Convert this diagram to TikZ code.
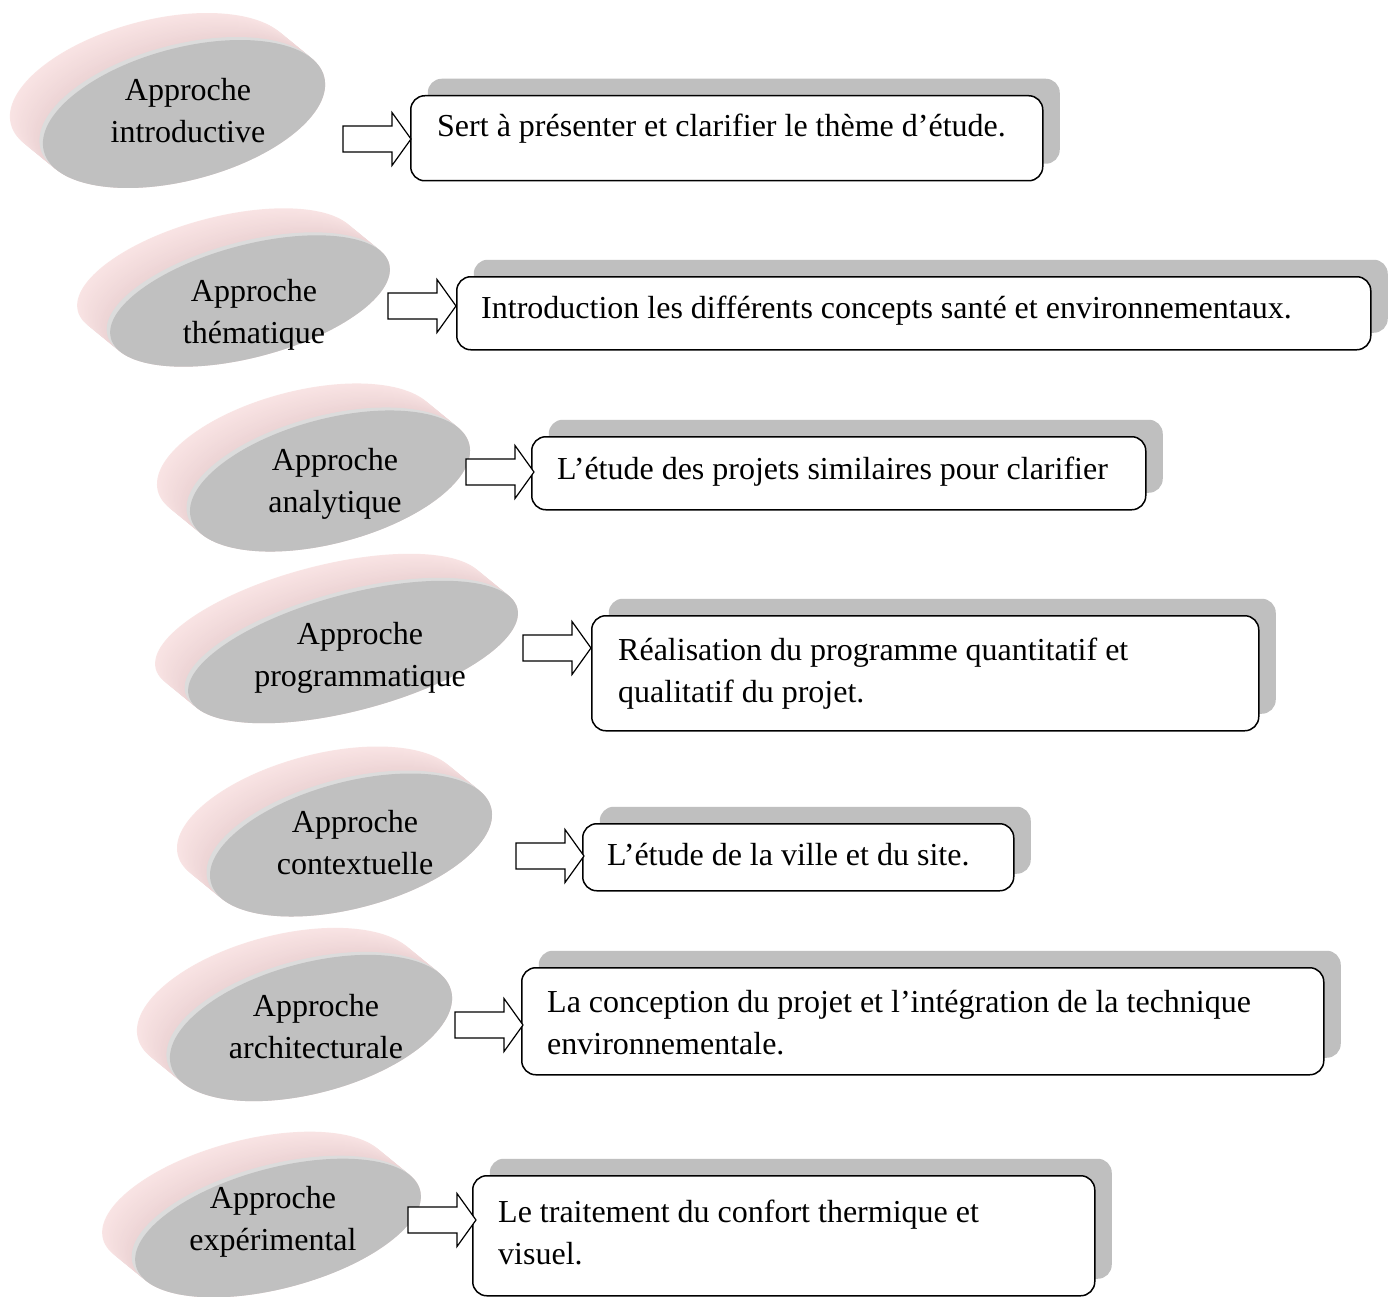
\documentclass[tikz,border=0pt]{standalone}
\usepackage{fontspec}
\setmainfont{Liberation Serif}
\usetikzlibrary{shadows}
\definecolor{faceg}{HTML}{C0C0C0}
\definecolor{rimg}{HTML}{DCDCDC}
\definecolor{shg}{HTML}{BFBFBF}
\definecolor{pinkB}{HTML}{F9E4E4}
\definecolor{pinkF}{HTML}{EBD2D3}
\newcommand\mydisk[4]{%
 \foreach \k in {0,...,24}{%
  \pgfmathsetmacro\dtf{1-\k/24}%
  \pgfmathtruncatemacro\pc{100*\k/24}%
  \fill[pinkF!\pc!pinkB, shift={({#1-33*\dtf},{#2-27*\dtf})}, rotate=15] (0,0) ellipse [x radius=#3pt, y radius=#4pt];
 }%
 \fill[rimg, shift={({#1-3.5},{#2-3})}, rotate=15] (0,0) ellipse [x radius=#3pt, y radius=#4pt];
 \fill[faceg, shift={(#1,#2)}, rotate=15] (0,0) ellipse [x radius=#3pt, y radius=#4pt];
}
\newcommand\barrow[2]{%
 \draw[arrowst] (#1,{#2-13}) -- ++(49,0) -- ++(0,-13.5) -- ++(19,26.5) -- ++(-19,26.5) -- ++(0,-13.5) -- ++(-49,0) -- cycle;}
\tikzset{
 arrowst/.style={fill=white, draw=black, line width=1.2pt, line join=miter},
 tbox/.style={anchor=north west, draw=black, fill=white, line width=1.5pt, rounded corners=14pt, inner sep=0pt,
   general shadow={fill=shg, shadow xshift=17pt, shadow yshift=17pt}},
 lbl/.style={anchor=base west, inner sep=0pt, font=\fontsize{32}{42}\selectfont},
 elbl/.style={anchor=base, inner sep=0pt, font=\fontsize{32}{42}\selectfont},
}
\begin{document}
\begin{tikzpicture}[x=1pt, y=-1pt]
\useasboundingbox (0,0) rectangle (1396,1297);
\fill[white] (0,0) rectangle (1396,1297);
\clip (0,0) rectangle (1396,1297);

% disks
\mydisk{184}{114}{145}{66}
\node[elbl] (e1a) at (188,101) {Approche};
\node[elbl] (e1b) at (188,143) {introductive};

\mydisk{250}{301}{144}{56}
\node[elbl] (e2a) at (254,301) {Approche};
\node[elbl] (e2b) at (254,343) {thématique};

\mydisk{330}{481}{144}{62}
\node[elbl] (e3a) at (335,470) {Approche};
\node[elbl] (e3b) at (335,512) {analytique};

\mydisk{353}{652}{170}{58}
\node[elbl] (e4a) at (360,644) {Approche};
\node[elbl] (e4b) at (360,686) {programmatique};

\mydisk{351}{845}{145}{63}
\node[elbl] (e5a) at (355,832) {Approche};
\node[elbl] (e5b) at (355,874) {contextuelle};

\mydisk{311}{1028}{145}{65}
\node[elbl] (e6a) at (316,1016) {Approche};
\node[elbl] (e6b) at (316,1058) {architecturale};

\mydisk{278}{1228}{147}{60}
\node[elbl] (e7a) at (273,1208) {Approche};
\node[elbl] (e7b) at (273,1250) {expérimental};

% boxes
\node[tbox, minimum width=632pt, minimum height=85pt] (b1) at (410,95) {};
\node[lbl] (t1a) at (437,137) {Sert à présenter et clarifier le thème d’étude.};

\node[tbox, minimum width=914pt, minimum height=73pt] (b2) at (456,276) {};
\node[lbl] (t2a) at (481,318) {Introduction les différents concepts santé et environnementaux.};

\node[tbox, minimum width=614pt, minimum height=73pt] (b3) at (531,436) {};
\node[lbl] (t3a) at (557,479) {L’étude des projets similaires pour clarifier};

\node[tbox, minimum width=667pt, minimum height=115pt] (b4) at (591,615) {};
\node[lbl] (t4a) at (618,660) {Réalisation du programme quantitatif et};
\node[lbl] (t4b) at (618,702) {qualitatif du projet.};

\node[tbox, minimum width=431pt, minimum height=67pt] (b5) at (582,823) {};
\node[lbl] (t5a) at (607,865) {L’étude de la ville et du site.};

\node[tbox, minimum width=802pt, minimum height=107pt] (b6) at (521,967) {};
\node[lbl] (t6a) at (547,1012) {La conception du projet et l’intégration de la technique};
\node[lbl] (t6b) at (547,1054) {environnementale.};

\node[tbox, minimum width=622pt, minimum height=120pt] (b7) at (472,1175) {};
\node[lbl] (t7a) at (498,1222) {Le traitement du confort thermique et};
\node[lbl] (t7b) at (498,1264) {visuel.};

% arrows
\barrow{343}{139}
\barrow{388}{306}
\barrow{466}{472}
\barrow{523}{648}
\barrow{516}{856}
\barrow{455}{1025}
\barrow{408}{1220}
\end{tikzpicture}
\end{document}
